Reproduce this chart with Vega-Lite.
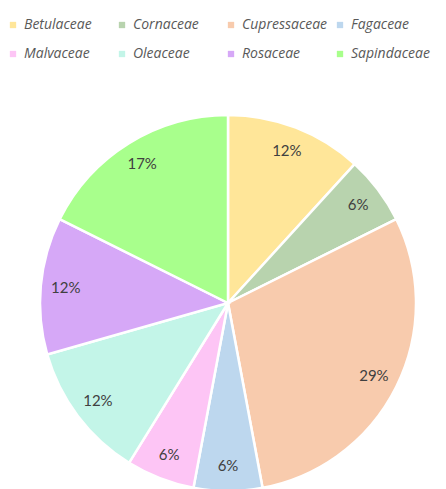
{
  "$schema": "https://vega.github.io/schema/vega-lite/v6.json",
  "autosize": "none",
  "width": 376,
  "height": 372,
  "padding": {"left": 40, "top": 117, "right": 30, "bottom": 0},
  "background": "white",
  "data": {
    "values": [
      {"family": "Betulaceae", "count": 2, "order": 1, "label": "12%"},
      {"family": "Cornaceae", "count": 1, "order": 2, "label": "6%"},
      {"family": "Cupressaceae", "count": 5, "order": 3, "label": "29%"},
      {"family": "Fagaceae", "count": 1, "order": 4, "label": "6%"},
      {"family": "Malvaceae", "count": 1, "order": 5, "label": "6%"},
      {"family": "Oleaceae", "count": 2, "order": 6, "label": "12%"},
      {"family": "Rosaceae", "count": 2, "order": 7, "label": "12%"},
      {"family": "Sapindaceae", "count": 3, "order": 8, "label": "17%"}
    ]
  },
  "encoding": {
    "theta": {"field": "count", "type": "quantitative", "stack": true},
    "order": {"field": "order", "type": "quantitative", "sort": "ascending"},
    "color": {
      "field": "family",
      "type": "nominal",
      "scale": {
        "domain": ["Betulaceae", "Cornaceae", "Cupressaceae", "Fagaceae", "Malvaceae", "Oleaceae", "Rosaceae", "Sapindaceae"],
        "range": ["#FFE699", "#B8D3AE", "#F8CBAD", "#BDD7EE", "#FDC5F5", "#C3F5E8", "#D6A8F7", "#A8FF8C"]
      },
      "legend": {
        "title": null,
        "orient": "none",
        "legendX": -34,
        "legendY": -99,
        "direction": "horizontal",
        "columns": 4,
        "gridAlign": "all",
        "columnPadding": 5,
        "rowPadding": 15,
        "symbolType": "square",
        "symbolSize": 40,
        "symbolStrokeWidth": 0,
        "labelFont": "Open Sans",
        "labelFontStyle": "italic",
        "labelFontSize": 14,
        "labelColor": "#595959",
        "labelOffset": 4
      }
    }
  },
  "layer": [
    {
      "mark": {"type": "arc", "outerRadius": 188, "stroke": "white", "strokeWidth": 2.5}
    },
    {
      "mark": {"type": "text", "radius": 163, "font": "Lato", "fontSize": 15, "fill": "#404040"},
      "encoding": {
        "text": {"field": "label", "type": "nominal"}
      }
    }
  ]
}
